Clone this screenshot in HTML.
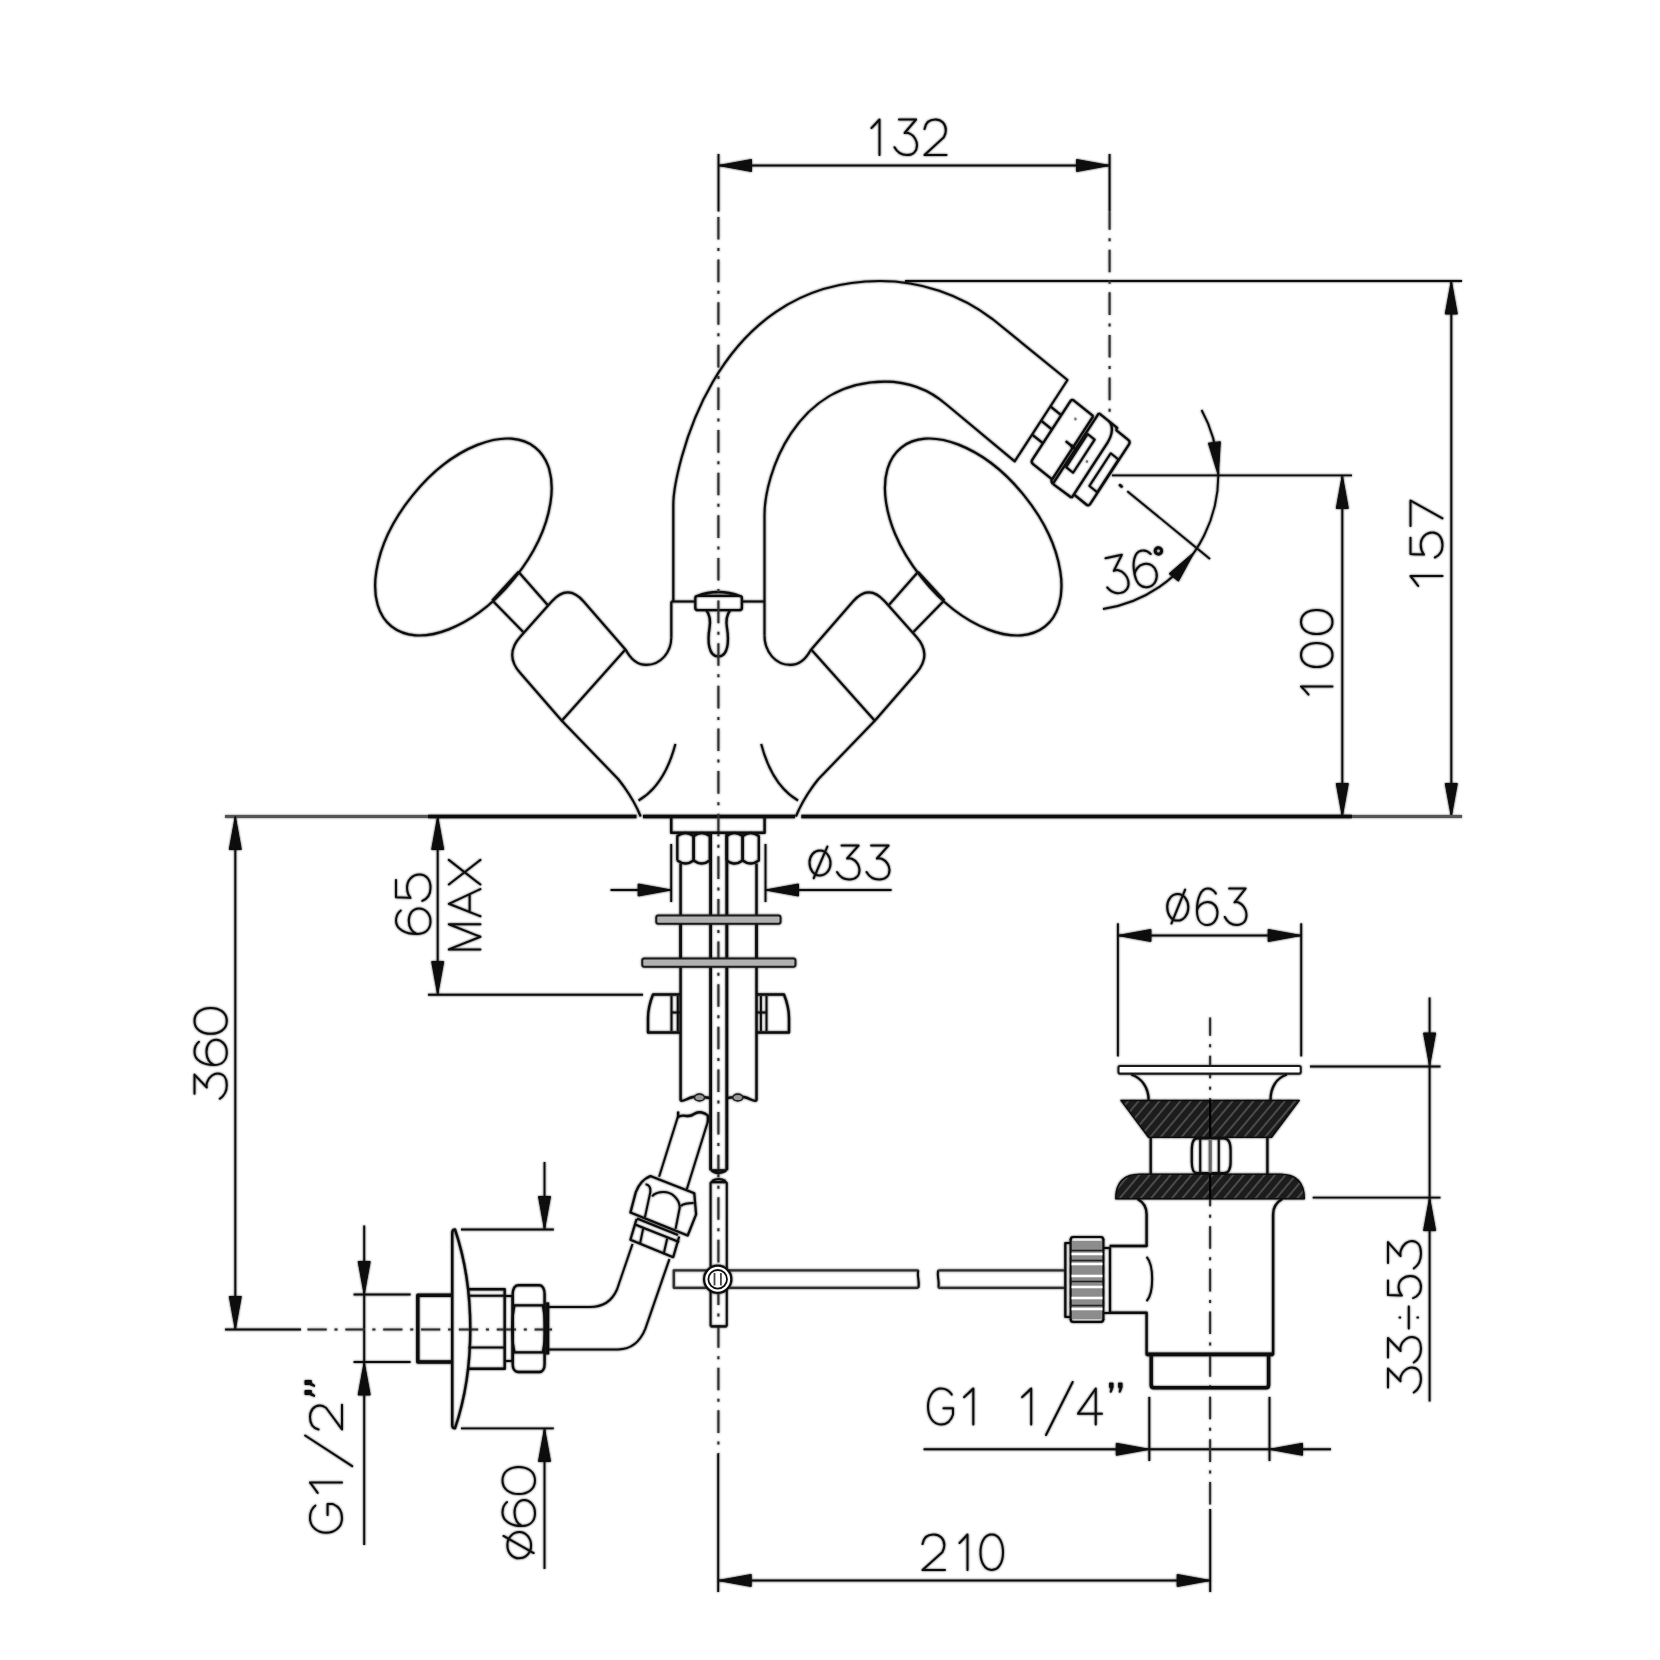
<!DOCTYPE html>
<html><head><meta charset="utf-8"><style>html,body{margin:0;padding:0;background:#fff;}svg{display:block;}</style></head><body>
<svg width="1660" height="1660" viewBox="0 0 1660 1660">
<rect width="1660" height="1660" fill="#fff"/>
<defs><filter id="bl" x="0" y="0" width="1660" height="1660" filterUnits="userSpaceOnUse"><feGaussianBlur stdDeviation="1" result="b"/><feComponentTransfer in="b" result="c"><feFuncA type="linear" slope="0.8"/></feComponentTransfer><feMerge><feMergeNode in="c"/><feMergeNode in="SourceGraphic"/></feMerge></filter></defs>
<g stroke-linecap="butt" stroke-linejoin="round" filter="url(#bl)">
<line x1="718.5" y1="154" x2="718.5" y2="211.5" stroke="#111" stroke-width="1.9" />
<line x1="1109.6" y1="154" x2="1109.6" y2="211.5" stroke="#111" stroke-width="1.9" />
<line x1="718.5" y1="165.5" x2="1109.6" y2="165.5" stroke="#111" stroke-width="1.9" />
<path d="M718.5,165.5 L751.5,159.5 L751.5,171.5Z" fill="#111" stroke="#111" stroke-width="1"/>
<path d="M1109.6,165.5 L1076.6,171.5 L1076.6,159.5Z" fill="#111" stroke="#111" stroke-width="1"/>
<path transform="matrix(8,0,0,35.5,871.5,119.5)" d="M1,1 L1,0 C.7,.08 .35,.16 0,.24" stroke="#111" stroke-width="2.0" fill="none" vector-effect="non-scaling-stroke" stroke-linecap="round" stroke-linejoin="round"/>
<path transform="matrix(22.5,0,0,35.5,894.5,119.5)" d="M.2,0 L.96,0 L.45,.38 C.52,.37 .6,.37 .66,.39 C.88,.45 1,.6 1,.72 C1,.9 .82,1 .55,1 C.32,1 .12,.92 0,.78" stroke="#111" stroke-width="2.0" fill="none" vector-effect="non-scaling-stroke" stroke-linecap="round" stroke-linejoin="round"/>
<path transform="matrix(22,0,0,35.5,924.5,119.5)" d="M0,.27 C.04,.09 .22,0 .5,0 C.78,0 .97,.13 .97,.3 C.97,.37 .94,.43 .88,.5 L0,1 L1,1" stroke="#111" stroke-width="2.0" fill="none" vector-effect="non-scaling-stroke" stroke-linecap="round" stroke-linejoin="round"/>
<line x1="905" y1="281" x2="1462" y2="281" stroke="#111" stroke-width="1.9" />
<line x1="1451.3" y1="281" x2="1451.3" y2="816.5" stroke="#111" stroke-width="1.9" />
<path d="M1451.3,281 L1457.3,314 L1445.3,314Z" fill="#111" stroke="#111" stroke-width="1"/>
<path d="M1451.3,816.5 L1445.3,783.5 L1457.3,783.5Z" fill="#111" stroke="#111" stroke-width="1"/>
<path transform="matrix(0,-10,32,0,1410.5,586)" d="M1,1 L1,0 C.7,.08 .35,.16 0,.24" stroke="#111" stroke-width="2.0" fill="none" vector-effect="non-scaling-stroke" stroke-linecap="round" stroke-linejoin="round"/>
<path transform="matrix(0,-26,32,0,1410.5,558.5)" d="M.8,0 L.17,0 L.15,.42 C.26,.35 .38,.32 .52,.32 C.8,.32 1,.48 1,.68 C1,.88 .8,1 .52,1 C.3,1 .12,.92 .04,.76" stroke="#111" stroke-width="2.0" fill="none" vector-effect="non-scaling-stroke" stroke-linecap="round" stroke-linejoin="round"/>
<path transform="matrix(0,-25.5,32,0,1410.5,526)" d="M0,0 L1,0 L.3,1" stroke="#111" stroke-width="2.0" fill="none" vector-effect="non-scaling-stroke" stroke-linecap="round" stroke-linejoin="round"/>
<line x1="1112" y1="475.4" x2="1352" y2="475.4" stroke="#111" stroke-width="1.9" />
<line x1="1342.3" y1="475.4" x2="1342.3" y2="816.5" stroke="#111" stroke-width="1.9" />
<path d="M1342.3,475.4 L1348.3,508.4 L1336.3,508.4Z" fill="#111" stroke="#111" stroke-width="1"/>
<path d="M1342.3,816.5 L1336.3,783.5 L1348.3,783.5Z" fill="#111" stroke="#111" stroke-width="1"/>
<path transform="matrix(0,-8.2,31.5,0,1301,694.6)" d="M1,1 L1,0 C.7,.08 .35,.16 0,.24" stroke="#111" stroke-width="2.0" fill="none" vector-effect="non-scaling-stroke" stroke-linecap="round" stroke-linejoin="round"/>
<path transform="matrix(0,-24,31.5,0,1301,667)" d="M.5,0 C.84,0 1,.24 1,.5 C1,.76 .84,1 .5,1 C.16,1 0,.76 0,.5 C0,.24 .16,0 .5,0Z" stroke="#111" stroke-width="2.0" fill="none" vector-effect="non-scaling-stroke" stroke-linecap="round" stroke-linejoin="round"/>
<path transform="matrix(0,-24,31.5,0,1301,634)" d="M.5,0 C.84,0 1,.24 1,.5 C1,.76 .84,1 .5,1 C.16,1 0,.76 0,.5 C0,.24 .16,0 .5,0Z" stroke="#111" stroke-width="2.0" fill="none" vector-effect="non-scaling-stroke" stroke-linecap="round" stroke-linejoin="round"/>
<line x1="225" y1="816.5" x2="428" y2="816.5" stroke="#555" stroke-width="3.0" />
<line x1="428" y1="816.5" x2="636.5" y2="816.5" stroke="#111" stroke-width="3.6" />
<line x1="643" y1="816.5" x2="795" y2="816.5" stroke="#111" stroke-width="3.6" />
<line x1="801.3" y1="816.5" x2="1352" y2="816.5" stroke="#111" stroke-width="3.6" />
<line x1="1352" y1="816.5" x2="1462" y2="816.5" stroke="#555" stroke-width="3.0" />
<line x1="235.3" y1="816.5" x2="235.3" y2="1329.5" stroke="#111" stroke-width="1.9" />
<path d="M235.3,816.5 L241.3,849.5 L229.3,849.5Z" fill="#111" stroke="#111" stroke-width="1"/>
<path d="M235.3,1329.5 L229.3,1296.5 L241.3,1296.5Z" fill="#111" stroke="#111" stroke-width="1"/>
<path transform="matrix(0,-25.2,32.3,0,194.5,1098.8)" d="M.2,0 L.96,0 L.45,.38 C.52,.37 .6,.37 .66,.39 C.88,.45 1,.6 1,.72 C1,.9 .82,1 .55,1 C.32,1 .12,.92 0,.78" stroke="#111" stroke-width="2.0" fill="none" vector-effect="non-scaling-stroke" stroke-linecap="round" stroke-linejoin="round"/>
<path transform="matrix(0,-25.2,32.3,0,194.5,1065)" d="M.92,.14 C.82,.04 .68,0 .52,0 C.18,0 0,.28 0,.6 C0,.86 .2,1 .5,1 C.8,1 1,.84 1,.67 C1,.49 .8,.37 .52,.37 C.26,.37 .06,.47 0,.6" stroke="#111" stroke-width="2.0" fill="none" vector-effect="non-scaling-stroke" stroke-linecap="round" stroke-linejoin="round"/>
<path transform="matrix(0,-25.8,32.3,0,194.5,1033.8)" d="M.5,0 C.84,0 1,.24 1,.5 C1,.76 .84,1 .5,1 C.16,1 0,.76 0,.5 C0,.24 .16,0 .5,0Z" stroke="#111" stroke-width="2.0" fill="none" vector-effect="non-scaling-stroke" stroke-linecap="round" stroke-linejoin="round"/>
<line x1="437.7" y1="816.5" x2="437.7" y2="994.6" stroke="#111" stroke-width="1.9" />
<path d="M437.7,816.5 L443.7,849.5 L431.7,849.5Z" fill="#111" stroke="#111" stroke-width="1"/>
<path d="M437.7,994.6 L431.7,961.6 L443.7,961.6Z" fill="#111" stroke="#111" stroke-width="1"/>
<line x1="428" y1="994.8" x2="643" y2="994.8" stroke="#111" stroke-width="1.9" />
<path transform="matrix(0,-25.5,34.5,0,396,934)" d="M.92,.14 C.82,.04 .68,0 .52,0 C.18,0 0,.28 0,.6 C0,.86 .2,1 .5,1 C.8,1 1,.84 1,.67 C1,.49 .8,.37 .52,.37 C.26,.37 .06,.47 0,.6" stroke="#111" stroke-width="2.0" fill="none" vector-effect="non-scaling-stroke" stroke-linecap="round" stroke-linejoin="round"/>
<path transform="matrix(0,-27.5,34.5,0,396,902)" d="M.8,0 L.17,0 L.15,.42 C.26,.35 .38,.32 .52,.32 C.8,.32 1,.48 1,.68 C1,.88 .8,1 .52,1 C.3,1 .12,.92 .04,.76" stroke="#111" stroke-width="2.0" fill="none" vector-effect="non-scaling-stroke" stroke-linecap="round" stroke-linejoin="round"/>
<path transform="matrix(0,-25.2,31.6,0,448.8,949.4)" d="M0,1 L0,0 L.5,1 L1,0 L1,1" stroke="#111" stroke-width="2.0" fill="none" vector-effect="non-scaling-stroke" stroke-linecap="round" stroke-linejoin="round"/>
<path transform="matrix(0,-27.2,31.6,0,448.8,916.3)" d="M0,1 L.46,0 L1,1 M.15,.66 L.8,.66" stroke="#111" stroke-width="2.0" fill="none" vector-effect="non-scaling-stroke" stroke-linecap="round" stroke-linejoin="round"/>
<path transform="matrix(0,-24.6,31.6,0,448.8,884.5)" d="M0,0 L1,1 M1,0 L0,1" stroke="#111" stroke-width="2.0" fill="none" vector-effect="non-scaling-stroke" stroke-linecap="round" stroke-linejoin="round"/>
<line x1="610.5" y1="890" x2="671.2" y2="890" stroke="#111" stroke-width="1.9" />
<path d="M671.2,890 L638.2,896 L638.2,884Z" fill="#111" stroke="#111" stroke-width="1"/>
<line x1="765.5" y1="890" x2="891.6" y2="890" stroke="#111" stroke-width="1.9" />
<path d="M765.5,890 L798.5,884 L798.5,896Z" fill="#111" stroke="#111" stroke-width="1"/>
<line x1="671.2" y1="844" x2="671.2" y2="902" stroke="#111" stroke-width="1.9" />
<line x1="765.5" y1="844" x2="765.5" y2="902" stroke="#111" stroke-width="1.9" />
<path transform="matrix(21,0,0,34.1,809.5,845.5)" d="M.5,.15 C.8,.15 1,.33 1,.52 C1,.72 .78,.88 .48,.88 C.2,.88 0,.71 0,.5 C0,.3 .22,.15 .5,.15Z M.2,.96 L.85,.03" stroke="#111" stroke-width="2.0" fill="none" vector-effect="non-scaling-stroke" stroke-linecap="round" stroke-linejoin="round"/>
<path transform="matrix(22.5,0,0,34.1,837,845.5)" d="M.2,0 L.96,0 L.45,.38 C.52,.37 .6,.37 .66,.39 C.88,.45 1,.6 1,.72 C1,.9 .82,1 .55,1 C.32,1 .12,.92 0,.78" stroke="#111" stroke-width="2.0" fill="none" vector-effect="non-scaling-stroke" stroke-linecap="round" stroke-linejoin="round"/>
<path transform="matrix(23,0,0,34.1,866.5,845.5)" d="M.2,0 L.96,0 L.45,.38 C.52,.37 .6,.37 .66,.39 C.88,.45 1,.6 1,.72 C1,.9 .82,1 .55,1 C.32,1 .12,.92 0,.78" stroke="#111" stroke-width="2.0" fill="none" vector-effect="non-scaling-stroke" stroke-linecap="round" stroke-linejoin="round"/>
<line x1="1117.9" y1="935.5" x2="1301.2" y2="935.5" stroke="#111" stroke-width="1.9" />
<path d="M1117.9,935.5 L1150.9,929.5 L1150.9,941.5Z" fill="#111" stroke="#111" stroke-width="1"/>
<path d="M1301.2,935.5 L1268.2,941.5 L1268.2,929.5Z" fill="#111" stroke="#111" stroke-width="1"/>
<line x1="1117.9" y1="923.3" x2="1117.9" y2="1056.4" stroke="#111" stroke-width="1.9" />
<line x1="1301.2" y1="923.3" x2="1301.2" y2="1056.4" stroke="#111" stroke-width="1.9" />
<path transform="matrix(21.1,0,0,36.5,1167.2,888.5)" d="M.5,.15 C.8,.15 1,.33 1,.52 C1,.72 .78,.88 .48,.88 C.2,.88 0,.71 0,.5 C0,.3 .22,.15 .5,.15Z M.2,.96 L.85,.03" stroke="#111" stroke-width="2.0" fill="none" vector-effect="non-scaling-stroke" stroke-linecap="round" stroke-linejoin="round"/>
<path transform="matrix(20.5,0,0,36.5,1197,888.5)" d="M.92,.14 C.82,.04 .68,0 .52,0 C.18,0 0,.28 0,.6 C0,.86 .2,1 .5,1 C.8,1 1,.84 1,.67 C1,.49 .8,.37 .52,.37 C.26,.37 .06,.47 0,.6" stroke="#111" stroke-width="2.0" fill="none" vector-effect="non-scaling-stroke" stroke-linecap="round" stroke-linejoin="round"/>
<path transform="matrix(21.7,0,0,36.5,1224.8,888.5)" d="M.2,0 L.96,0 L.45,.38 C.52,.37 .6,.37 .66,.39 C.88,.45 1,.6 1,.72 C1,.9 .82,1 .55,1 C.32,1 .12,.92 0,.78" stroke="#111" stroke-width="2.0" fill="none" vector-effect="non-scaling-stroke" stroke-linecap="round" stroke-linejoin="round"/>
<line x1="1429.6" y1="997.6" x2="1429.6" y2="1401.4" stroke="#111" stroke-width="1.9" />
<path d="M1429.6,1066 L1423.6,1033 L1435.6,1033Z" fill="#111" stroke="#111" stroke-width="1"/>
<path d="M1429.6,1197.6 L1435.6,1230.6 L1423.6,1230.6Z" fill="#111" stroke="#111" stroke-width="1"/>
<line x1="1310" y1="1066.5" x2="1440.5" y2="1066.5" stroke="#111" stroke-width="1.9" />
<line x1="1312.7" y1="1197.6" x2="1440.5" y2="1197.6" stroke="#111" stroke-width="1.9" />
<path transform="matrix(0,-25,33,0,1388,1392.5)" d="M.2,0 L.96,0 L.45,.38 C.52,.37 .6,.37 .66,.39 C.88,.45 1,.6 1,.72 C1,.9 .82,1 .55,1 C.32,1 .12,.92 0,.78" stroke="#111" stroke-width="2.0" fill="none" vector-effect="non-scaling-stroke" stroke-linecap="round" stroke-linejoin="round"/>
<path transform="matrix(0,-25.5,33,0,1388,1362.5)" d="M.2,0 L.96,0 L.45,.38 C.52,.37 .6,.37 .66,.39 C.88,.45 1,.6 1,.72 C1,.9 .82,1 .55,1 C.32,1 .12,.92 0,.78" stroke="#111" stroke-width="2.0" fill="none" vector-effect="non-scaling-stroke" stroke-linecap="round" stroke-linejoin="round"/>
<path transform="matrix(0,-22,33,0,1388,1328.5)" d="M0,.63 L1,.63 M.5,.35 L.5,.37 M.5,.89 L.5,.91" stroke="#111" stroke-width="2.0" fill="none" vector-effect="non-scaling-stroke" stroke-linecap="round" stroke-linejoin="round"/>
<path transform="matrix(0,-23,33,0,1388,1299)" d="M.8,0 L.17,0 L.15,.42 C.26,.35 .38,.32 .52,.32 C.8,.32 1,.48 1,.68 C1,.88 .8,1 .52,1 C.3,1 .12,.92 .04,.76" stroke="#111" stroke-width="2.0" fill="none" vector-effect="non-scaling-stroke" stroke-linecap="round" stroke-linejoin="round"/>
<path transform="matrix(0,-27.5,33,0,1388,1268.5)" d="M.2,0 L.96,0 L.45,.38 C.52,.37 .6,.37 .66,.39 C.88,.45 1,.6 1,.72 C1,.9 .82,1 .55,1 C.32,1 .12,.92 0,.78" stroke="#111" stroke-width="2.0" fill="none" vector-effect="non-scaling-stroke" stroke-linecap="round" stroke-linejoin="round"/>
<line x1="923.6" y1="1449.3" x2="1331" y2="1449.3" stroke="#111" stroke-width="1.9" />
<path d="M1149.3,1449.3 L1116.3,1455.3 L1116.3,1443.3Z" fill="#111" stroke="#111" stroke-width="1"/>
<path d="M1269.5,1449.3 L1302.5,1443.3 L1302.5,1455.3Z" fill="#111" stroke="#111" stroke-width="1"/>
<line x1="1149.3" y1="1396.9" x2="1149.3" y2="1461" stroke="#111" stroke-width="1.9" />
<line x1="1269.5" y1="1396.9" x2="1269.5" y2="1461" stroke="#111" stroke-width="1.9" />
<path transform="matrix(25,0,0,36,928,1388.5)" d="M.95,.17 C.85,.05 .7,0 .52,0 C.2,0 0,.24 0,.5 C0,.78 .2,1 .52,1 C.75,1 .92,.9 1,.72 L1,.55 L.62,.55" stroke="#111" stroke-width="2.0" fill="none" vector-effect="non-scaling-stroke" stroke-linecap="round" stroke-linejoin="round"/>
<path transform="matrix(9.3,0,0,36,964,1388.5)" d="M1,1 L1,0 C.7,.08 .35,.16 0,.24" stroke="#111" stroke-width="2.0" fill="none" vector-effect="non-scaling-stroke" stroke-linecap="round" stroke-linejoin="round"/>
<path transform="matrix(9.2,0,0,36,1022,1388.5)" d="M1,1 L1,0 C.7,.08 .35,.16 0,.24" stroke="#111" stroke-width="2.0" fill="none" vector-effect="non-scaling-stroke" stroke-linecap="round" stroke-linejoin="round"/>
<path transform="matrix(24,0,0,36,1078,1388.5)" d="M.74,1 L.74,0 L0,.7 L1,.7" stroke="#111" stroke-width="2.0" fill="none" vector-effect="non-scaling-stroke" stroke-linecap="round" stroke-linejoin="round"/>
<path transform="matrix(26.7,0,0,53,1046,1382)" d="M0,1 L1,0" stroke="#111" stroke-width="2.0" fill="none" vector-effect="non-scaling-stroke" stroke-linecap="round" stroke-linejoin="round"/>
<path d="M1109.5,1383 l3.6,0 l0,4.2 l-1.8,5 l-1.2,0 l0.8,-4.6 l-1.4,0 Z M1118.5,1383 l3.6,0 l0,4.2 l-1.8,5 l-1.2,0 l0.8,-4.6 l-1.4,0 Z" fill="#111" stroke="#111" stroke-width="0.8"/>
<line x1="718.2" y1="1580.5" x2="1210.2" y2="1580.5" stroke="#111" stroke-width="1.9" />
<path d="M718.2,1580.5 L751.2,1574.5 L751.2,1586.5Z" fill="#111" stroke="#111" stroke-width="1"/>
<path d="M1210.2,1580.5 L1177.2,1586.5 L1177.2,1574.5Z" fill="#111" stroke="#111" stroke-width="1"/>
<line x1="718.2" y1="1454" x2="718.2" y2="1592" stroke="#111" stroke-width="1.9" />
<line x1="1210.2" y1="1509" x2="1210.2" y2="1592" stroke="#111" stroke-width="1.9" />
<path transform="matrix(22.5,0,0,35.5,922.5,1534.5)" d="M0,.27 C.04,.09 .22,0 .5,0 C.78,0 .97,.13 .97,.3 C.97,.37 .94,.43 .88,.5 L0,1 L1,1" stroke="#111" stroke-width="2.0" fill="none" vector-effect="non-scaling-stroke" stroke-linecap="round" stroke-linejoin="round"/>
<path transform="matrix(8,0,0,35.5,959.5,1534.5)" d="M1,1 L1,0 C.7,.08 .35,.16 0,.24" stroke="#111" stroke-width="2.0" fill="none" vector-effect="non-scaling-stroke" stroke-linecap="round" stroke-linejoin="round"/>
<path transform="matrix(22.5,0,0,35.5,980.5,1534.5)" d="M.5,0 C.84,0 1,.24 1,.5 C1,.76 .84,1 .5,1 C.16,1 0,.76 0,.5 C0,.24 .16,0 .5,0Z" stroke="#111" stroke-width="2.0" fill="none" vector-effect="non-scaling-stroke" stroke-linecap="round" stroke-linejoin="round"/>
<line x1="364.2" y1="1225.6" x2="364.2" y2="1545" stroke="#111" stroke-width="1.9" />
<path d="M364.2,1294.5 L358.2,1261.5 L370.2,1261.5Z" fill="#111" stroke="#111" stroke-width="1"/>
<path d="M364.2,1362 L370.2,1395 L358.2,1395Z" fill="#111" stroke="#111" stroke-width="1"/>
<line x1="353.6" y1="1294.5" x2="410.6" y2="1294.5" stroke="#111" stroke-width="1.9" />
<line x1="353.6" y1="1362" x2="410.6" y2="1362" stroke="#111" stroke-width="1.9" />
<path transform="matrix(0,-28.7,32,0,310,1532.8)" d="M.95,.17 C.85,.05 .7,0 .52,0 C.2,0 0,.24 0,.5 C0,.78 .2,1 .52,1 C.75,1 .92,.9 1,.72 L1,.55 L.62,.55" stroke="#111" stroke-width="2.0" fill="none" vector-effect="non-scaling-stroke" stroke-linecap="round" stroke-linejoin="round"/>
<path transform="matrix(0,-10.3,32,0,310,1492.9)" d="M1,1 L1,0 C.7,.08 .35,.16 0,.24" stroke="#111" stroke-width="2.0" fill="none" vector-effect="non-scaling-stroke" stroke-linecap="round" stroke-linejoin="round"/>
<path transform="matrix(0,-24.6,32,0,310,1429.4)" d="M0,.27 C.04,.09 .22,0 .5,0 C.78,0 .97,.13 .97,.3 C.97,.37 .94,.43 .88,.5 L0,1 L1,1" stroke="#111" stroke-width="2.0" fill="none" vector-effect="non-scaling-stroke" stroke-linecap="round" stroke-linejoin="round"/>
<path transform="matrix(0,-30.7,47.1,0,305.1,1466.2)" d="M0,1 L1,0" stroke="#111" stroke-width="2.0" fill="none" vector-effect="non-scaling-stroke" stroke-linecap="round" stroke-linejoin="round"/>
<path d="M305,1390.5 l0,4 l4.5,0 l5,2 l0,-1.4 l-3.2,-2 l0,-2.6 Z M305,1380.5 l0,4 l4.5,0 l5,2 l0,-1.4 l-3.2,-2 l0,-2.6 Z" fill="#111" stroke="#111" stroke-width="1"/>
<line x1="544.5" y1="1162" x2="544.5" y2="1229.5" stroke="#111" stroke-width="1.9" />
<line x1="544.5" y1="1428.4" x2="544.5" y2="1568.9" stroke="#111" stroke-width="1.9" />
<path d="M544.5,1229.5 L538.5,1196.5 L550.5,1196.5Z" fill="#111" stroke="#111" stroke-width="1"/>
<path d="M544.5,1428.4 L550.5,1461.4 L538.5,1461.4Z" fill="#111" stroke="#111" stroke-width="1"/>
<line x1="461" y1="1229.5" x2="553.8" y2="1229.5" stroke="#111" stroke-width="1.9" />
<line x1="461" y1="1428.4" x2="553.8" y2="1428.4" stroke="#111" stroke-width="1.9" />
<path transform="matrix(0,-26.3,32.5,0,502.5,1558.3)" d="M.5,.15 C.8,.15 1,.33 1,.52 C1,.72 .78,.88 .48,.88 C.2,.88 0,.71 0,.5 C0,.3 .22,.15 .5,.15Z M.2,.96 L.85,.03" stroke="#111" stroke-width="2.0" fill="none" vector-effect="non-scaling-stroke" stroke-linecap="round" stroke-linejoin="round"/>
<path transform="matrix(0,-26,32.5,0,502.5,1526)" d="M.92,.14 C.82,.04 .68,0 .52,0 C.18,0 0,.28 0,.6 C0,.86 .2,1 .5,1 C.8,1 1,.84 1,.67 C1,.49 .8,.37 .52,.37 C.26,.37 .06,.47 0,.6" stroke="#111" stroke-width="2.0" fill="none" vector-effect="non-scaling-stroke" stroke-linecap="round" stroke-linejoin="round"/>
<path transform="matrix(0,-27,32.5,0,502.5,1494)" d="M.5,0 C.84,0 1,.24 1,.5 C1,.76 .84,1 .5,1 C.16,1 0,.76 0,.5 C0,.24 .16,0 .5,0Z" stroke="#111" stroke-width="2.0" fill="none" vector-effect="non-scaling-stroke" stroke-linecap="round" stroke-linejoin="round"/>
<path d="M1201.56,410.02 A135.3,135.3 0 0,1 1103,609.01" stroke="#111" stroke-width="1.9" fill="none" />
<path d="M1218.3,475.2 L1208.41,443.15 L1220.33,441.72Z" fill="#111" stroke="#111" stroke-width="1"/>
<path d="M1194.5,551.83 L1178.42,581.27 L1169.09,573.72Z" fill="#111" stroke="#111" stroke-width="1"/>
<line x1="1127.3" y1="491.2" x2="1210" y2="559" stroke="#111" stroke-width="1.9" />
<line x1="1119" y1="484.5" x2="1121.5" y2="486.5" stroke="#111" stroke-width="1.9" />
<g transform="translate(1100.7,559.3) rotate(-12)">
<path transform="matrix(22,0,0,37,0.5,0)" d="M.2,0 L.96,0 L.45,.38 C.52,.37 .6,.37 .66,.39 C.88,.45 1,.6 1,.72 C1,.9 .82,1 .55,1 C.32,1 .12,.92 0,.78" stroke="#111" stroke-width="2.0" fill="none" vector-effect="non-scaling-stroke" stroke-linecap="round" stroke-linejoin="round"/>
<path transform="matrix(21.8,0,0,37,30,0)" d="M.92,.14 C.82,.04 .68,0 .52,0 C.18,0 0,.28 0,.6 C0,.86 .2,1 .5,1 C.8,1 1,.84 1,.67 C1,.49 .8,.37 .52,.37 C.26,.37 .06,.47 0,.6" stroke="#111" stroke-width="2.0" fill="none" vector-effect="non-scaling-stroke" stroke-linecap="round" stroke-linejoin="round"/>
<circle cx="58.2" cy="3.8" r="3.2" fill="none" stroke="#111" stroke-width="3"/>
</g>
<path d="M671.3,637.3 L671.3,601.5 M673.3,601.5 L673.3,505 C673.3,475 710,281 880,281 A185.4,185.4 0 0,1 992.2,318.8 L1067.5,380 L1014.7,461.4 L946.4,404.5 A93.8,93.8 0 0,0 885,381.6 C795,381.6 764.5,475 764.5,515 L764.5,635.3" stroke="#111" stroke-width="2.1" fill="none" />
<line x1="671.3" y1="601.5" x2="695.3" y2="601.5" stroke="#111" stroke-width="2.1" />
<line x1="741.9" y1="601.5" x2="764.5" y2="601.5" stroke="#111" stroke-width="2.1" />
<path d="M697,596 Q718,588 740,596 M695.3,598 Q695.3,595.9 698,595.9 L739,595.9 Q741.9,595.9 741.9,598 L741.9,608 Q741.9,610.2 739,610.2 L698,610.2 Q695.3,610.2 695.3,608Z" stroke="#111" stroke-width="2.3" fill="none" />
<path d="M706.5,610.5 C710,615 710.5,622 709.5,628 C707.5,640 708,656.5 718.3,656.5 C728.6,656.5 729,640 727,628 C726,622 726.5,615 730,610.5" stroke="#111" stroke-width="2.3" fill="none" />
<path d="M671.3,637.3 C671.3,652 661,664.9 646.3,664.9 C637,664.9 630,658 625.6,649.5" stroke="#111" stroke-width="2.1" fill="none" />
<path d="M764.5,635.3 C764.5,652 775.6,664.9 790.3,664.9 C799.6,664.9 806.6,658 811,649.5" stroke="#111" stroke-width="2.1" fill="none" />
<path d="M811.2,649.5 L852.95,601.51 Q868.7,583.4 884.68,601.31 L916.32,636.79 Q932.3,654.7 916.55,672.81 L874.8,720.8 Z" stroke="#111" stroke-width="2.1" fill="none" />
<path d="M625.4,649.5 L583.65,601.51 Q567.9,583.4 551.92,601.31 L520.28,636.79 Q504.3,654.7 520.05,672.81 L561.8,720.8 Z" stroke="#111" stroke-width="2.1" fill="none" />
<path d="M874.8,720.8 L818.5,779 C808,792 801,804 795.9,816.5" stroke="#111" stroke-width="2.1" fill="none" />
<path d="M561.8,720.8 L618.1,779 C628.6,792 635.6,804 640.7,816.5" stroke="#111" stroke-width="2.1" fill="none" />
<path d="M761.2,744.1 C768,770 780,790 798,800.5" stroke="#111" stroke-width="2.1" fill="none" />
<path d="M675.4,744.1 C668.6,770 656.6,790 638.6,800.5" stroke="#111" stroke-width="2.1" fill="none" />
<ellipse cx="973.2" cy="537" rx="114.8" ry="65.7" transform="rotate(51.2 973.2 537)" fill="none" stroke="#111" stroke-width="2.2"/>
<ellipse cx="463.4" cy="537" rx="114.8" ry="65.7" transform="rotate(-51.2 463.4 537)" fill="none" stroke="#111" stroke-width="2.2"/>
<line x1="492.4" y1="600.6" x2="518.8" y2="571.8" stroke="#111" stroke-width="2.7" />
<line x1="944.2" y1="600.6" x2="917.8" y2="571.8" stroke="#111" stroke-width="2.7" />
<path d="M918.2,571.8 L888.5,605.5" stroke="#111" stroke-width="2.1" fill="none" />
<path d="M518.4,571.8 L548.1,605.5" stroke="#111" stroke-width="2.1" fill="none" />
<path d="M944.2,600.6 L913.4,632.1" stroke="#111" stroke-width="2.1" fill="none" />
<path d="M492.4,600.6 L523.2,632.1" stroke="#111" stroke-width="2.1" fill="none" />
<line x1="718.4" y1="211.5" x2="718.4" y2="1454" stroke="#333" stroke-width="2.0" stroke-dasharray="22.6 8.51 3.0 8.51" stroke-dashoffset="37.13"/>
<line x1="1109.6" y1="211.5" x2="1109.6" y2="413" stroke="#333" stroke-width="2.0" stroke-dasharray="22.6 8.51 3.0 8.51" stroke-dashoffset="4.41"/>
<path d="M671.2,818 L671.2,832.7 L764.6,832.7 L764.6,818" stroke="#111" stroke-width="2.4" fill="none" />
<path d="M677.3,860.5 L677.3,836 Q685.45,830 693.6,836 L693.6,860.5 Q685.45,866.5 677.3,860.5" stroke="#111" stroke-width="2.3" fill="none" />
<path d="M693.6,860.5 L693.6,836 Q701.7,830 709.8,836 L709.8,860.5 Q701.7,866.5 693.6,860.5" stroke="#111" stroke-width="2.3" fill="none" />
<path d="M726.6,860.5 L726.6,836 Q734.6,830 742.6,836 L742.6,860.5 Q734.6,866.5 726.6,860.5" stroke="#111" stroke-width="2.3" fill="none" />
<path d="M742.6,860.5 L742.6,836 Q750.7,830 758.8,836 L758.8,860.5 Q750.7,866.5 742.6,860.5" stroke="#111" stroke-width="2.3" fill="none" />
<line x1="680.6" y1="863.5" x2="680.6" y2="1100.8" stroke="#111" stroke-width="2.4" />
<line x1="756.5" y1="863.5" x2="756.5" y2="1100.8" stroke="#111" stroke-width="2.4" />
<line x1="710.6" y1="832.7" x2="710.6" y2="1170.3" stroke="#111" stroke-width="2.8" />
<line x1="726.8" y1="832.7" x2="726.8" y2="1170.3" stroke="#111" stroke-width="2.8" />
<path d="M710.6,1170.3 L726.8,1170.3 M712,1171 Q718.7,1175 725.5,1171" stroke="#111" stroke-width="2.2" fill="none" />
<path d="M712,1181 Q718.7,1177 725.5,1181 M710.6,1182.2 L726.8,1182.2" stroke="#111" stroke-width="2.2" fill="none" />
<line x1="710.6" y1="1182.2" x2="710.6" y2="1326.4" stroke="#111" stroke-width="2.0" />
<line x1="726.8" y1="1182.2" x2="726.8" y2="1326.4" stroke="#111" stroke-width="2.0" />
<line x1="710.6" y1="1326.4" x2="726.8" y2="1326.4" stroke="#111" stroke-width="2.4" />
<path d="M680.6,1100.8 C684,1102 690,1096 697,1096.5 M702,1097 L710.6,1098" stroke="#111" stroke-width="2.3" fill="none" />
<path d="M756.5,1100.8 C753,1102 747,1096 740,1096.5 M735,1097 L726.8,1098" stroke="#111" stroke-width="2.3" fill="none" />
<ellipse cx="699.5" cy="1097.5" rx="5" ry="3.4" fill="#999" stroke="#222" stroke-width="1.6"/>
<ellipse cx="737.8" cy="1097.5" rx="5" ry="3.4" fill="#999" stroke="#222" stroke-width="1.6"/>
<rect x="656.3" y="915.5" width="124.2" height="8.2" rx="2" fill="#b0b0b0" stroke="#1a1a1a" stroke-width="2"/>
<rect x="642.3" y="958.5" width="153.1" height="8.2" rx="2" fill="#b0b0b0" stroke="#1a1a1a" stroke-width="2"/>
<line x1="680.6" y1="924" x2="680.6" y2="958" stroke="#111" stroke-width="2.4" />
<line x1="756.5" y1="924" x2="756.5" y2="958" stroke="#111" stroke-width="2.4" />
<path d="M681,994.5 L653,994.5 C650,1002 648,1010 648,1018 L648,1032.5 L681,1032.5" stroke="#111" stroke-width="2.4" fill="none" />
<path d="M671.5,996 L671.5,1031 M677.8,996 L677.8,1031 M671.5,1012.5 L681,1012.5" stroke="#111" stroke-width="2.0" fill="none" />
<path d="M756.2,994.5 L784,994.5 C787,1002 789,1010 789,1018 L789,1032.5 L756.2,1032.5" stroke="#111" stroke-width="2.4" fill="none" />
<path d="M760.9,996 L760.9,1031 M766.5,996 L766.5,1031 M756.2,1012.5 L766.5,1012.5" stroke="#111" stroke-width="2.0" fill="none" />
<path d="M918.4,1270.3 L673.8,1270.3 L673.8,1287.8 L918.4,1287.8" stroke="#333" stroke-width="2.3" fill="none" />
<path d="M918.4,1270.3 C916.5,1276 920,1282 918.4,1287.8" stroke="#111" stroke-width="2.0" fill="none" />
<path d="M938.3,1270.3 C936.5,1276 940,1282 938.3,1287.8" stroke="#111" stroke-width="2.0" fill="none" />
<path d="M938.3,1270.3 L1065.5,1270.3 M938.3,1287.8 L1065.5,1287.8" stroke="#333" stroke-width="2.3" fill="none" />
<circle cx="717.7" cy="1279.3" r="13.6" fill="#fff" stroke="#111" stroke-width="2.3"/>
<circle cx="717.7" cy="1279.3" r="9.3" fill="#fff" stroke="#111" stroke-width="1.8"/>
<path d="M714.5,1273 L714.5,1285.5 M720.9,1273 L720.9,1285.5" stroke="#444" stroke-width="1.8" fill="none" />
<path d="M678.1,1116 L659.1,1176.8 M707.9,1121.4 L686.8,1189.2" stroke="#111" stroke-width="2.0" fill="none" />
<path d="M678.1,1111.5 L678.1,1117 C684,1113 688,1119 694,1114 C699,1110.5 705,1113 707.9,1115.5 L707.9,1122" stroke="#111" stroke-width="2.3" fill="none" />
<path d="M650.3,1176.1 L694.3,1193.3 L696.1,1214.4 L687.7,1235.5 L630.4,1212.6 L635.8,1192.1 C639,1184 644,1178.5 650.3,1176.1Z" stroke="#111" stroke-width="2.2" fill="none" />
<path d="M645.5,1184.3 Q650.9,1184.9 650.3,1192.1 L644.9,1217.4 M652.1,1196.3 C655.1,1192.7 658.7,1192.1 663.6,1192.1 C672,1192.1 679.2,1198.7 679.8,1207.2 L675.6,1228.9 M681,1206 Q684,1203 693.7,1203" stroke="#111" stroke-width="2.0" fill="none" />
<path d="M637,1218.6 L678,1234.9 M635.2,1224.6 L679.2,1242.1 M636.6,1219 L630.4,1239.7 L673.2,1257.2 L679.2,1236.5" stroke="#111" stroke-width="2.2" fill="none" />
<path d="M643.1,1228.9 L640.1,1243.3 M667.2,1238.5 L663.6,1254.2" stroke="#111" stroke-width="2.0" fill="none" />
<path d="M632.5,1244 L617,1289.5 C612,1301 603,1307 590,1307 L548.5,1307" stroke="#111" stroke-width="2.0" fill="none" />
<path d="M669.4,1259.2 L645.3,1328.9 C640,1342 632,1349.4 618,1349.4 L548.5,1349.4" stroke="#111" stroke-width="2.0" fill="none" />
<line x1="225" y1="1329.5" x2="301" y2="1329.5" stroke="#111" stroke-width="1.9" />
<line x1="301" y1="1329.5" x2="552" y2="1329.5" stroke="#333" stroke-width="2.0" stroke-dasharray="19.2 7.83 3.0 7.83" stroke-dashoffset="31.37"/>
<path d="M451.7,1295.3 L417.8,1295.3 L417.8,1362 L451.7,1362" stroke="#111" stroke-width="3.4" fill="none" />
<path d="M452.2,1233 Q452.2,1229.5 455,1229.5 C466,1262 470.3,1300 470.3,1329 C470.3,1358 466,1396 455,1428.4 Q452.2,1428.4 452.2,1425 Z" stroke="#111" stroke-width="2.4" fill="none" />
<path d="M468.5,1289.2 L504.7,1289.2 L504.7,1368.7 L468.5,1368.7" stroke="#111" stroke-width="2.4" fill="none" />
<line x1="468.5" y1="1295.8" x2="504.7" y2="1295.8" stroke="#111" stroke-width="2.0" />
<line x1="468.5" y1="1347.5" x2="504.7" y2="1347.5" stroke="#111" stroke-width="2.0" />
<path d="M504.7,1296 L512.7,1296 L512.7,1361 L504.7,1361" stroke="#111" stroke-width="2.2" fill="none" />
<path d="M518,1285.2 L539.5,1285.2 C542.5,1285.2 544.6,1289 544.6,1294 L544.6,1364 C544.6,1369 542.5,1372 539.5,1372 L518,1372 C515,1372 512.7,1369 512.7,1364 L512.7,1294 C512.7,1289 515,1285.2 518,1285.2Z" stroke="#111" stroke-width="2.4" fill="none" />
<path d="M512.7,1305.3 L544.6,1305.3 M512.7,1352.3 L544.6,1352.3" stroke="#111" stroke-width="2.2" fill="none" />
<path d="M514.5,1305.3 C511.5,1320 511.5,1338 514.5,1352.3 M542.8,1305.3 C545.8,1320 545.8,1338 542.8,1352.3" stroke="#111" stroke-width="2.0" fill="none" />
<line x1="547.5" y1="1302.4" x2="547.5" y2="1354.4" stroke="#111" stroke-width="3.4" />
<line x1="1210.1" y1="1017.5" x2="1210.1" y2="1509" stroke="#333" stroke-width="2.0" stroke-dasharray="22.6 8.51 3.0 8.51" stroke-dashoffset="4.41"/>
<rect x="1118.5" y="1066" width="182.2" height="7.6" rx="1.5" fill="#fff" stroke="#1a1a1a" stroke-width="2.1"/>
<path d="M1131.2,1074.5 C1142,1078 1148.6,1088 1148.6,1100" stroke="#111" stroke-width="2.3" fill="none" />
<path d="M1286.9,1074.5 C1276,1078 1270.5,1088 1270.5,1100" stroke="#111" stroke-width="2.3" fill="none" />
<defs><pattern id="hat" patternUnits="userSpaceOnUse" width="8" height="8" patternTransform="rotate(-50)"><rect width="8" height="8" fill="#1a1a1a"/><line x1="0" y1="4" x2="8" y2="4" stroke="#505050" stroke-width="1.8"/></pattern></defs>
<path d="M1121,1100.4 L1299.2,1100.4 L1271.5,1137.3 L1148.6,1137.3Z" fill="url(#hat)" stroke="#111" stroke-width="1.5"/>
<line x1="1150.7" y1="1137.3" x2="1150.7" y2="1175" stroke="#111" stroke-width="2.3" />
<line x1="1267.4" y1="1137.3" x2="1267.4" y2="1175" stroke="#111" stroke-width="2.3" />
<path d="M1197,1138.3 L1224,1138.3 Q1230.6,1138.3 1230.6,1150 L1230.6,1162 Q1230.6,1173.2 1224,1173.2 L1197,1173.2 Q1191.8,1173.2 1191.8,1162 L1191.8,1150 Q1191.8,1138.3 1197,1138.3Z" stroke="#111" stroke-width="2.2" fill="none" />
<path d="M1200.2,1139 L1200.2,1172.5 M1218.8,1139 L1218.8,1172.5" stroke="#111" stroke-width="2.0" fill="none" />
<line x1="1210.2" y1="1139" x2="1210.2" y2="1172.5" stroke="#666" stroke-width="3.0" />
<path d="M1115.8,1198.8 C1115.8,1185 1122,1174.2 1140,1174.2 L1280,1174.2 C1298,1174.2 1304.3,1185 1304.3,1198.8 Z" fill="url(#hat)" stroke="#111" stroke-width="1.5"/>
<path d="M1137.6,1199 C1143,1202 1146.6,1207 1146.6,1214.3 L1146.6,1246 L1109.6,1246 M1109.6,1312.8 L1146.6,1312.8 L1146.6,1354.4 L1273.1,1354.4 L1273.1,1214.3 C1273.1,1207 1277,1202 1282.2,1199" stroke="#111" stroke-width="2.4" fill="none" />
<line x1="1146.6" y1="1354.4" x2="1273.1" y2="1354.4" stroke="#111" stroke-width="3.6" />
<path d="M1151.2,1355 L1151.2,1385 Q1151.2,1387.8 1154,1387.8 L1266,1387.8 Q1268.6,1387.8 1268.6,1385 L1268.6,1355" stroke="#111" stroke-width="3.4" fill="none" />
<path d="M1146.6,1256.8 C1154,1265 1154,1293 1146.6,1301.1" stroke="#111" stroke-width="2.0" fill="none" />
<path d="M1070.7,1239 L1070.7,1320 M1103.3,1239 L1103.3,1320" stroke="#111" stroke-width="2.2" fill="none" />
<path d="M1073,1237 L1101,1237 Q1103.3,1237 1103.3,1240 M1073,1321.9 L1101,1321.9 Q1103.3,1321.9 1103.3,1319 M1073,1237 Q1070.7,1237 1070.7,1240 M1073,1321.9 Q1070.7,1321.9 1070.7,1319" stroke="#111" stroke-width="2.2" fill="none" />
<rect x="1072" y="1241" width="30" height="78" fill="#8c8c8c"/>
<line x1="1071.5" y1="1254" x2="1102.5" y2="1254" stroke="#fff" stroke-width="2.6" />
<line x1="1071.5" y1="1264" x2="1102.5" y2="1264" stroke="#fff" stroke-width="2.6" />
<line x1="1071.5" y1="1276" x2="1102.5" y2="1276" stroke="#fff" stroke-width="2.6" />
<line x1="1071.5" y1="1287" x2="1102.5" y2="1287" stroke="#fff" stroke-width="2.6" />
<line x1="1071.5" y1="1298" x2="1102.5" y2="1298" stroke="#fff" stroke-width="2.6" />
<line x1="1071.5" y1="1309" x2="1102.5" y2="1309" stroke="#fff" stroke-width="2.6" />
<line x1="1071.5" y1="1250.5" x2="1102.5" y2="1250.5" stroke="#222" stroke-width="1.6" />
<line x1="1071.5" y1="1260.5" x2="1102.5" y2="1260.5" stroke="#222" stroke-width="1.6" />
<line x1="1071.5" y1="1281.5" x2="1102.5" y2="1281.5" stroke="#222" stroke-width="1.6" />
<line x1="1071.5" y1="1305.5" x2="1102.5" y2="1305.5" stroke="#222" stroke-width="1.6" />
<path d="M1070.7,1243 L1065.3,1243 L1065.3,1317 L1070.7,1317" stroke="#111" stroke-width="2.2" fill="none" />
<path d="M1103.3,1248 L1110,1248 L1110,1313 L1103.3,1313" stroke="#111" stroke-width="2.2" fill="none" />
<line x1="1210.1" y1="1100.4" x2="1210.1" y2="1137.3" stroke="#000" stroke-width="2.2" />
<line x1="1210.1" y1="1174.2" x2="1210.1" y2="1198.8" stroke="#000" stroke-width="2.2" />
<g transform="matrix(0.7781,0.6282,-0.5453,0.8383,1041.1,420.7)">
<path d="M0,-17 L13.8,-17 M0,0 L13.8,0 M0,16.5 L13.8,16.5" stroke="#111" stroke-width="2.3" fill="none" vector-effect="non-scaling-stroke"/>
<path d="M41.5,-36.5 L17,-36.5 Q14,-36.5 14,-33.5 L14,36 Q14,39 17,39 L41.5,39" stroke="#111" stroke-width="2.3" fill="none" vector-effect="non-scaling-stroke"/>
<path d="M41.5,-36.5 L41.5,41 M44.5,-42.5 L44.5,42 M41.5,41 L44.5,42" stroke="#111" stroke-width="2.3" fill="none" vector-effect="non-scaling-stroke"/>
<path d="M44.5,-42.5 L68,-42.5 L68,-40 M57,-42.5 C64,-42 68,-34 68,-24 L68,41 M44.5,42 L68,41" stroke="#111" stroke-width="2.3" fill="none" vector-effect="non-scaling-stroke"/>
<path d="M68,-40 L84,-40 Q87,-40 87,-37 L87,34 Q87,37 84,37 L68,37" stroke="#111" stroke-width="2.3" fill="none" vector-effect="non-scaling-stroke"/>
<path d="M46.5,-19 L55.5,-19 L55.5,20.5 L46.5,20.5Z M76.5,-18.5 L86.5,-18.5 L86.5,20.5 L76.5,20.5Z" stroke="#111" stroke-width="2.1" fill="none" vector-effect="non-scaling-stroke"/>
<path d="M32,0.5 L46,0.5" stroke="#111" stroke-width="2.3" fill="none" vector-effect="non-scaling-stroke"/>
<circle cx="40" cy="0.5" r="1.8" fill="#111"/>
<circle cx="28" cy="-23" r="1.3" fill="#777"/><circle cx="61" cy="3" r="1.3" fill="#777"/>
</g>
<line x1="1119.5" y1="484.8" x2="1122.5" y2="487.2" stroke="#111" stroke-width="2.6" />
</g>
</svg>
</body></html>
